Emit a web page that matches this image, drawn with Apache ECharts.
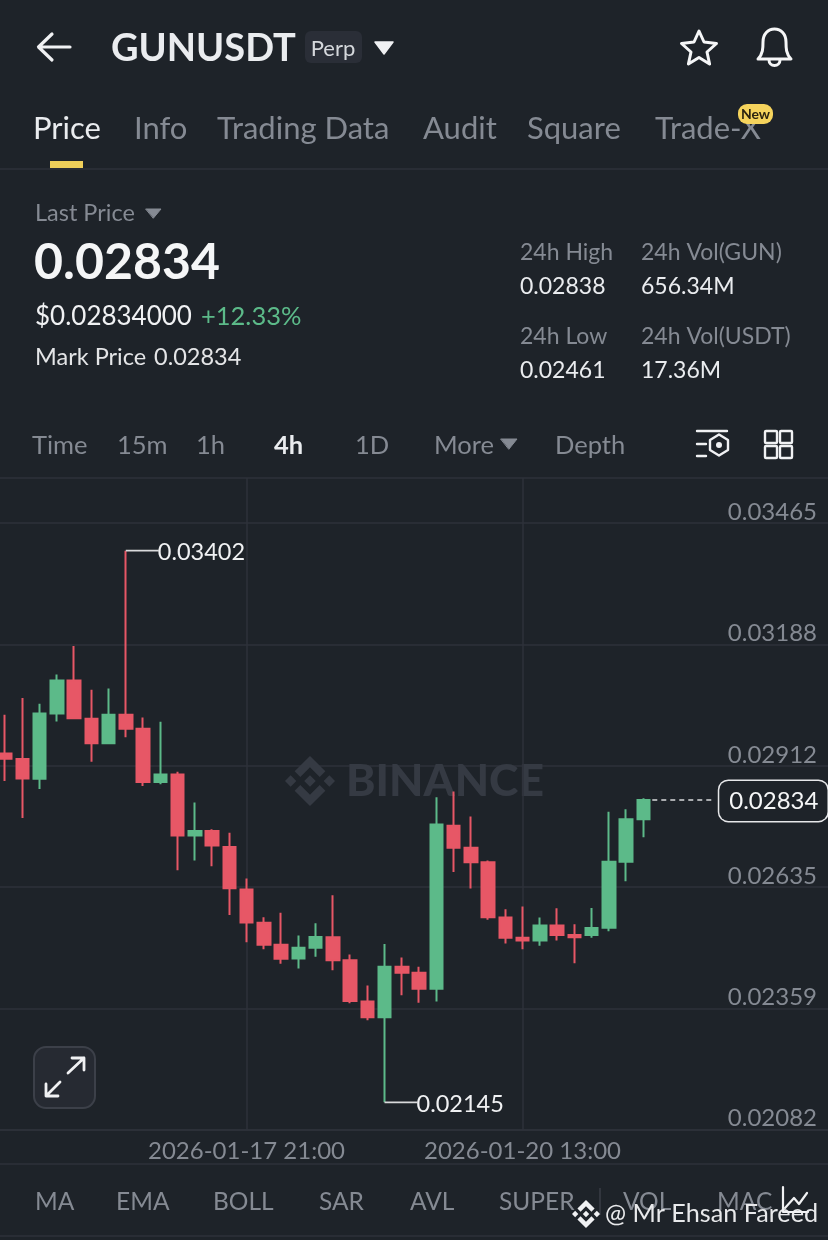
<!DOCTYPE html>
<html><head><meta charset="utf-8">
<style>html,body{margin:0;padding:0;background:#1e2329}#c{width:828px;height:1240px}</style>
<script src="https://cdn.jsdelivr.net/npm/echarts@6/dist/echarts.min.js"></script>
</head><body><div id="c"></div>
<script>
const categories = ['01-15 13:00','01-15 17:00','01-15 21:00','01-16 01:00','01-16 05:00','01-16 09:00','01-16 13:00','01-16 17:00','01-16 21:00','01-17 01:00','01-17 05:00','01-17 09:00','01-17 13:00','01-17 17:00','2026-01-17 21:00','01-18 01:00','01-18 05:00','01-18 09:00','01-18 13:00','01-18 17:00','01-18 21:00','01-19 01:00','01-19 05:00','01-19 09:00','01-19 13:00','01-19 17:00','01-19 21:00','01-20 01:00','01-20 05:00','01-20 09:00','2026-01-20 13:00','01-20 17:00','01-20 21:00','01-21 01:00','01-21 05:00','01-21 09:00','01-21 13:00','01-21 17:00','','','','','','','','','','',''];
const opens  = [.02940,.02927,.02882,.03031,.03106,.03019,.02963,.03028,.02996,.02875,.02892,.02753,.02763,.02727,.02630,.02554,.02504,.02473,.02497,.02521,.02469,.02375,.02339,.02454,.02440,.02404,.02775,.02725,.02692,.02566,.02520,.02514,.02548,.02526,.02526,.02543,.02693,.02790];
const closes = [.02928,.02883,.03031,.03106,.03020,.02963,.03028,.02996,.02875,.02892,.02753,.02763,.02730,.02633,.02555,.02504,.02472,.02497,.02522,.02469,.02376,.02339,.02454,.02440,.02404,.02778,.02725,.02692,.02567,.02520,.02514,.02548,.02526,.02521,.02542,.02693,.02790,.02834];
const lows   = [.02877,.02793,.02859,.03013,.03018,.02921,.02963,.02977,.02866,.02870,.02674,.02696,.02683,.02572,.02510,.02494,.02461,.02450,.02477,.02446,.02371,.02332,.02145,.02389,.02372,.02375,.02670,.02632,.02561,.02507,.02494,.02502,.02514,.02462,.02520,.02535,.02649,.02749];
const highs  = [.03028,.03066,.03053,.03120,.03185,.03085,.03088,.03402,.03022,.03012,.02898,.02828,.02767,.02759,.02655,.02567,.02577,.02525,.02553,.02617,.02482,.02411,.02506,.02475,.02454,.02840,.02853,.02796,.02696,.02585,.02591,.02566,.02587,.02551,.02588,.02807,.02813,.02838];
const yTicks = [.02082,.023586,.026352,.029118,.031884,.03465];
const yTop = .035675;
const xLabelIdx = [14,30];
const highMark = {index:7, value:.03402};
const lowMark = {index:22, value:.02145};
const lastPrice = .02834;
const UP='#5cba89', DOWN='#e75766', BG='#1e2329', GREY='#858a93', LINE='#2e323a', WHITE='#eaecef';
const FONT='Lato';
const tabs=[['Price',33,WHITE],['Info',134,GREY],['Trading Data',217,GREY],['Audit',423,GREY],['Square',527,GREY],['Trade-X',655,GREY]];
const periods=[['Time',32,GREY,400],['15m',117,GREY,400],['1h',196,GREY,400],['4h',274,WHITE,700],['1D',355,GREY,400],['More',434,GREY,400],['Depth',555,GREY,400]];
const indicators=[['MA',35],['EMA',116],['BOLL',213],['SAR',319],['AVL',410],['SUPER',499],['VOL',623],['MAC',717]];
const stats=[['24h High',520,252,GREY],['0.02838',520,286,WHITE],['24h Vol(GUN)',641,252,GREY],['656.34M',641,286,WHITE],['24h Low',520,336,GREY],['0.02461',520,370,WHITE],['24h Vol(USDT)',641,336,GREY],['17.36M',641,370,WHITE]];
const LOGO='M38.73 53.2L63.3 28.63l24.59 24.59 14.3-14.3L63.3 0 24.43 38.9zM0 63.3l14.3-14.3 14.3 14.3-14.3 14.3zM38.73 73.41L63.3 97.98l24.59-24.59 14.31 14.29L63.3 126.61 24.43 87.74zM98 63.31l14.3-14.3 14.31 14.3-14.31 14.3zM77.83 63.3L63.3 48.78 52.52 59.56l-1.24 1.24-2.55 2.5 14.57 14.52L77.83 63.3z';

function T(text,x,y,size,fill,weight,align,z){return {type:'text',x:x,y:y+1,z:z||10,style:{text:text,fill:fill,font:(weight||400)+' '+size+'px '+FONT+', sans-serif',textAlign:align||'left',textVerticalAlign:'middle'}};}
function P(d,stroke,lw,fill){return {type:'path',shape:{pathData:d},style:{fill:fill||'none',stroke:stroke||'none',lineWidth:lw||0,lineCap:'round',lineJoin:'round'}};}
function Hline(y,x1,x2,c){return {type:'line',z:1,shape:{x1:x1,y1:y,x2:x2,y2:y},style:{stroke:c||LINE,lineWidth:1.5}};}
const g=[], icons=[];
icons.push(P('M70 47H39M52 34L38.5 47L52 60','#f0f1f3',3.2));
g.push(T('GUNUSDT',111,48,38,WHITE,700));
g.push({type:'rect',z:9,shape:{x:305,y:31,width:57,height:32,r:6},style:{fill:'#2a2e37'}});
g.push(T('Perp',333,48,22,'#d5d8dc',400,'center'));
icons.push(P('M375 42H393L384 54Z','#f0f1f3',1.5,'#f0f1f3'));
icons.push(P('M699 31L704 42L716.5 43.5L707 52L709.6 64L699 57.5L688.4 64L691 52L681.5 43.5L694 42Z','#f5f6f7',3));
icons.push(P('M758 59C763 54 763 48 763 42C763 34 768 29 774.5 29C781 29 786 34 786 42C786 48 786 54 791 59ZM769 60A5.5 5.5 0 0 0 780 60','#f5f6f7',3));
tabs.forEach(t=>g.push(T(t[0],t[1],128,31,t[2],400)));
g.push({type:'rect',z:11,shape:{x:738,y:104,width:35,height:20,r:9},style:{fill:'#f5d35c'}});
g.push(T('New',755.5,113,14,'#2b2410',700,'center',12));
g.push({type:'rect',z:11,shape:{x:50,y:161,width:33,height:7},style:{fill:'#f0d05a'}});
g.push(Hline(169,0,828));
g.push(T('Last Price',35,212,23.5,GREY));
icons.push(P('M146 209H161L153.5 218Z',GREY,1,GREY));
g.push(T('0.02834',34,262,50,'#f5f6f7',700));
g.push(T('$0.02834000',35,316,26,'#f0f1f3'));
g.push(T('+12.33%',201,316,25.5,UP));
g.push(T('Mark Price',35,356,23.5,'#e4e5e7'));
g.push(T('0.02834',154,356,23.5,'#e4e5e7'));
stats.forEach(s=>g.push(T(s[0],s[1],s[2],23,s[3])));
periods.forEach(p=>g.push(T(p[0],p[1],445,25.5,p[2],p[3])));
icons.push(P('M501 439H517L509 449Z',GREY,1,GREY));
icons.push(P('M697 431H727M697 444H706M697 456H706','#f0f1f3',2.4));
icons.push(P('M719 434.5L728 440V450L719 455.5L710 450V440Z','#f0f1f3',2.4));
g.push({type:'circle',z:10,shape:{cx:719,cy:445,r:3},style:{fill:'#f0f1f3'}});
[[765,431],[780,431],[765,446],[780,446]].forEach(a=>g.push({type:'rect',z:10,shape:{x:a[0],y:a[1],width:12,height:12,r:1},style:{fill:'none',stroke:'#f0f1f3',lineWidth:2.4}}));
g.push(T('BINANCE',346,781,44.5,'#353a43',900,'left',1));
g.push({type:'rect',z:10,shape:{x:34,y:1047,width:61,height:61,r:12},style:{fill:'#262a32',stroke:'#3c4049',lineWidth:2}});
icons.push(P('M68 1073L84 1058M72 1058H84V1070M60 1082L46 1096M46 1084V1096H58','#f0f1f3',2.8));
g.push(Hline(1164,0,828));
indicators.forEach(i=>g.push(T(i[0],i[1],1201,24.5,GREY)));
g.push({type:'line',z:10,shape:{x1:600,y1:1188,x2:600,y2:1215},style:{stroke:'#3a3e46',lineWidth:1.5}});
g.push(Hline(1236,0,828));
icons.push(P('M783 1187V1212H808','#f0f1f3',2.2));
icons.push(P('M785 1208L794 1198L799 1204L807 1193','#f0f1f3',2.2));
icons.push({type:'path',shape:{pathData:LOGO,x:572,y:1200,width:28,height:28,layout:'center'},style:{fill:'#f0f1f3'}});
g.push(T('@ Mr Ehsan Fareed',605,1213,25.2,'#e8e9eb',400,'left',14));
const backIcons=[{type:'path',shape:{pathData:LOGO,x:285,y:756,width:50,height:50,layout:'center'},style:{fill:'#353a43'}}];

const candles=opens.map((o,i)=>[o,closes[i],lows[i],highs[i]]);
const chart=echarts.init(document.getElementById('c'),null,{renderer:'canvas',width:828,height:1240});
function leader(idx,val){return {coord:[idx,val],value:val.toFixed(5),symbol:'rect',symbolSize:[33,1.6],symbolOffset:[16.5,0],
  itemStyle:{color:'#d9dadc'},label:{show:true,position:'right',distance:0,offset:[-1,2],formatter:val.toFixed(5),color:'#f0f1f3',fontSize:23.5,fontFamily:FONT}};}
function iconSeries(list,z){return {type:'custom',coordinateSystem:'none',data:[0],z:z,silent:true,clip:false,renderItem:()=>({type:'group',children:list})};}
const vline=(i)=>[{coord:[i,yTicks[0]],lineStyle:{color:LINE,width:1.5,type:'solid'},label:{show:false}},{coord:[i,yTop]}];
chart.setOption({
  animation:false,backgroundColor:BG,
  graphic:{elements:g},
  grid:{left:-3.6,top:478,width:845.25,height:652,outerBoundsMode:'none',show:true,borderColor:LINE,borderWidth:1.5,backgroundColor:'transparent'},
  xAxis:{type:'category',data:categories,boundaryGap:true,
    axisLine:{show:false},axisTick:{show:false},
    axisLabel:{show:true,interval:(i)=>xLabelIdx.includes(i),formatter:(v)=>v,color:GREY,fontSize:24,fontFamily:FONT,margin:9},
    splitLine:{show:false}},
  yAxis:{type:'value',position:'right',offset:-13.65,min:yTicks[0],max:yTop,
    axisLine:{show:false},axisTick:{show:false,customValues:yTicks},
    axisLabel:{inside:true,customValues:yTicks,margin:11,color:GREY,fontSize:24,fontFamily:FONT,verticalAlign:'bottom',lineHeight:22,
      formatter:(v)=>v===yTicks[0]?'{low|'+v.toFixed(5)+'}':v.toFixed(5),
      rich:{low:{color:GREY,fontSize:24,fontFamily:FONT,lineHeight:22,padding:[0,0,2,0]}}},
    splitLine:{show:true,customValues:yTicks,lineStyle:{color:LINE,width:1.5}}},
  series:[
   iconSeries(backIcons,1),
   {type:'candlestick',z:2,data:candles,barWidth:13,clip:true,
    itemStyle:{color:UP,color0:DOWN,borderColor:UP,borderColor0:DOWN,borderWidth:2},
    markPoint:{z:6,silent:true,data:[leader(highMark.index,highMark.value),leader(lowMark.index,lowMark.value)]},
    markLine:{z:1,silent:true,symbol:'none',animation:false,data:[
      vline(xLabelIdx[0]),vline(xLabelIdx[1]),
      [{coord:[opens.length-1,lastPrice],lineStyle:{color:'#d9dadc',width:1.5,type:[5,4]},
        label:{show:true,position:'end',distance:7,offset:[0,1],formatter:lastPrice.toFixed(5),color:'#f5f6f7',fontSize:24,fontFamily:FONT,backgroundColor:BG,borderColor:'#e6e7e9',borderWidth:1.5,borderRadius:9,padding:[8,9,8,10]}},
       {coord:[41,lastPrice]}]
    ]}
   },
   iconSeries(icons,20)
  ]
});
</script></body></html>
